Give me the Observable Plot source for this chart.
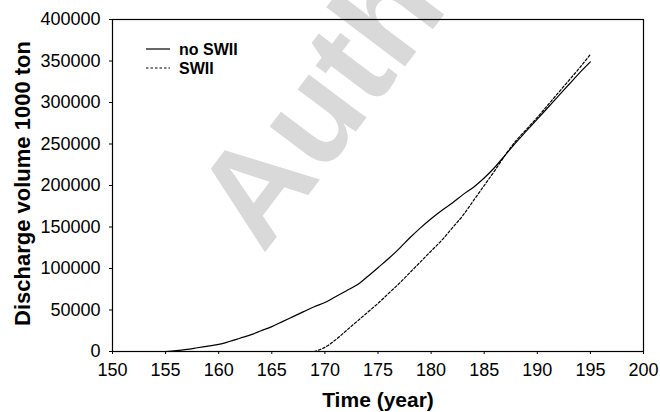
<!DOCTYPE html>
<html>
<head>
<meta charset="utf-8">
<script src="https://cdn.jsdelivr.net/npm/d3@7"></script>
<script src="https://cdn.jsdelivr.net/npm/@observablehq/plot@0.6"></script>
<style>
  body { margin: 0; background: #fff; }
  svg { display: block; }
</style>
</head>
<body>
<div id="chart"></div>
<script>
// values
const yearsNoSwii = [155,156,157,158,159,160,161,162,163,164,165,166,167,168,169,170,171,172,173,174,175,176,177,178,179,180,181,182,183,184,185,186,187,188,189,190,191,192,193,194,195];
const volNoSwii = [0,1000,2500,4500,6500,8500,12000,16000,20000,25000,30000,36000,42000,48000,54000,59000,66000,73000,80000,90000,101000,112000,124000,137000,149000,160000,170000,179000,189000,198000,209000,222000,237000,252000,266000,280000,294000,308000,322000,336000,349000];
const yearsSwii = [169,170,171,172,173,174,175,176,177,178,179,180,181,182,183,184,185,186,187,188,189,190,191,192,193,194,195];
const volSwii = [0,5000,14000,25000,36000,47000,58000,70000,82000,95000,108000,121000,134000,149000,164000,182000,200000,218000,237000,254000,268000,282000,297000,312000,327000,342000,358000];
const xTicks = [150,155,160,165,170,175,180,185,190,195,200];
const yTicks = [0,50000,100000,150000,200000,250000,300000,350000,400000];
const seriesNames = ["no SWII", "SWII"];

const noSwii = yearsNoSwii.map((t, i) => ({time: t, volume: volNoSwii[i]}));
const swii = yearsSwii.map((t, i) => ({time: t, volume: volSwii[i]}));

const plot = Plot.plot({
  width: 660,
  height: 412,
  marginLeft: 112,
  marginRight: 17,
  marginTop: 19,
  marginBottom: 61,
  style: {fontFamily: "'Liberation Sans', Arial, sans-serif", fontSize: "18px", color: "black", background: "white", overflow: "visible"},
  x: {domain: [150, 200]},
  y: {domain: [0, 400000]},
  marks: [
    Plot.axisX({ticks: xTicks, tickSize: 3, tickPadding: 9, label: null, fontSize: 18}),
    Plot.axisY({ticks: yTicks, tickSize: 3, tickPadding: 9, tickFormat: d => String(d), label: null, fontSize: 18}),
    Plot.frame({stroke: "black", strokeWidth: 1.2}),
    Plot.line(noSwii, {x: "time", y: "volume", stroke: "black", strokeWidth: 1.2, curve: "monotone-x"}),
    Plot.line(swii, {x: "time", y: "volume", stroke: "black", strokeWidth: 1.2, strokeDasharray: "2.5,2", curve: "monotone-x"}),
    Plot.text(["Time (year)"], {frameAnchor: "bottom", textAnchor: "middle", lineAnchor: "middle", dy: 49, fontSize: 21, fontWeight: "bold"}),
    Plot.text(["Discharge volume 1000 ton"], {frameAnchor: "left", textAnchor: "middle", lineAnchor: "middle", dx: -90, dy: -2, rotate: -90, fontSize: 22, fontWeight: "bold"})
  ]
});

const svg = d3.select(plot);

// grey watermark behind everything
svg.insert("text", "g")
  .attr("transform", "translate(263,255) rotate(-53)")
  .attr("text-anchor", "start")
  .attr("font-size", 136)
  .attr("font-weight", "bold")
  .attr("font-family", "'Liberation Sans', Arial, sans-serif")
  .attr("fill", "#d9d9d9")
  .text("Author");

// legend
const leg = svg.append("g").attr("font-size", 16).attr("font-weight", "bold").attr("text-anchor", "start");
seriesNames.forEach((name, i) => {
  const y = 49 + i * 19;
  leg.append("line")
    .attr("x1", 146).attr("x2", 170).attr("y1", y).attr("y2", y)
    .attr("stroke", "black").attr("stroke-width", 1.2)
    .attr("stroke-dasharray", i ? "2.5,2" : null);
  leg.append("text").attr("x", 179).attr("y", y).attr("dy", "0.35em").text(name);
});

document.getElementById("chart").append(plot);
</script>
</body>
</html>
